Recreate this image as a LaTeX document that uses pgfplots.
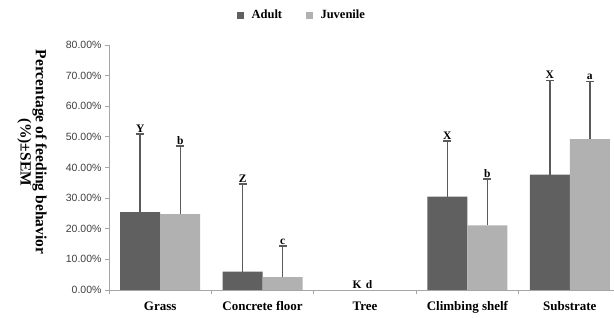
\documentclass[border=0pt]{standalone}
\usepackage{fontspec}
\setmainfont{Liberation Serif}
\newfontfamily\arialfont{Liberation Sans}
\usepackage{pgfplots}
\pgfplotsset{compat=1.18}
\usepackage{pgfplotstable}
\definecolor{adult}{HTML}{606060}
\definecolor{juv}{HTML}{B1B1B1}
\definecolor{axisgray}{HTML}{A6A6A6}
\definecolor{errgray}{HTML}{5A5A5A}
\definecolor{ticktext}{HTML}{404040}

% x: 0 Grass, 1 Concrete floor, 2 Tree (0, no bar), 3 Climbing shelf, 4 Substrate
\pgfplotstableread{
x val top lab
0 25.4 51.0 Y
1 6.0 34.6 Z
3 30.5 48.7 X
4 37.7 68.4 X
}\adult
\pgfplotstableread{
x val top lab
0 24.8 47.0 b
1 4.2 14.4 c
3 21.1 36.3 b
4 49.3 68.1 a
}\juvenile

\begin{document}
\begin{tikzpicture}
\begin{axis}[
  at={(109bp,28bp)}, anchor=south west,
  scale only axis, width=512bp, height=245bp,
  xmin=-0.5, xmax=4.5, ymin=0, ymax=80,
  ybar, bar width=40bp,
  axis x line*=bottom, axis y line*=left,
  axis line style={axisgray, line width=0.8bp},
  tick align=outside,
  ytick={0,10,...,80},
  yticklabel={\pgfmathprintnumber[fixed,fixed zerofill,precision=2]{\tick}\%},
  /pgf/number format/assume math mode=true,
  yticklabel style={font=\arialfont\fontsize{10.5bp}{12bp}\selectfont, text=ticktext},
  y tick style={axisgray, line width=0.8bp},
  major tick length=4bp,
  xtick={0,1,2,3,4},
  xticklabels={Grass, Concrete floor, Tree, Climbing shelf, Substrate},
  major x tick style={draw=none},
  minor xtick={-0.5,0.5,1.5,2.5,3.5,4.5},
  minor x tick style={axisgray, line width=0.8bp},
  minor tick length=4bp,
  xticklabel style={font=\bfseries\fontsize{13bp}{15bp}\selectfont, text=black, yshift=-4bp},
  ylabel={Percentage of feeding behavior\\(\%)±SEM},
  ylabel style={font=\bfseries\fontsize{15.5bp}{14bp}\selectfont, align=center,
    rotate=180, at={(axis description cs:-0.1504,0.563)}, anchor=center},
  legend columns=2,
  legend style={at={(rel axis cs:0.25,1.122)}, anchor=west, draw=none, fill=none,
    inner xsep=0pt, font=\bfseries\fontsize{12.5bp}{14bp}\selectfont,
    /tikz/every even column/.append style={column sep=22bp}},
  error bars/y dir=plus, error bars/y explicit,
  error bars/error bar style={errgray, line width=1.4bp},
  error bars/error mark options={rotate=90, mark size=4bp, errgray, line width=1.4bp},
]
\addlegendimage{legend image code/.code={\fill[adult] (0bp,-3bp) rectangle (6bp,3bp); \path (12bp,0bp);}}
\addlegendentry{Adult}
\addlegendimage{legend image code/.code={\fill[juv] (0bp,-3bp) rectangle (6bp,3bp); \path (12bp,0bp);}}
\addlegendentry{Juvenile}

\addplot[forget plot, fill=adult, draw=none, bar shift=-20bp]
  table[x=x, y=val, y error expr=\thisrow{top}-\thisrow{val}] {\adult};
\addplot[forget plot, fill=juv, draw=none, bar shift=20bp]
  table[x=x, y=val, y error expr=\thisrow{top}-\thisrow{val}] {\juvenile};

\addplot[forget plot, draw=none, fill=none, bar shift=-20bp,
  nodes near coords, point meta=explicit symbolic,
  nodes near coords style={font=\bfseries\fontsize{11.5bp}{13bp}\selectfont, text=black, anchor=south, inner sep=1bp, yshift=0.5bp}]
  table[x=x, y=top, meta=lab] {\adult};
\addplot[forget plot, draw=none, fill=none, bar shift=20bp,
  nodes near coords, point meta=explicit symbolic,
  nodes near coords style={font=\bfseries\fontsize{11.5bp}{13bp}\selectfont, text=black, anchor=south, inner sep=1bp, yshift=0.5bp}]
  table[x=x, y=top, meta=lab] {\juvenile};

\node[font=\bfseries\fontsize{11.5bp}{13bp}\selectfont, anchor=south, inner sep=0pt, xshift=-8bp, yshift=1.5bp] at (axis cs:2,0) {K};
\node[font=\bfseries\fontsize{11.5bp}{13bp}\selectfont, anchor=south, inner sep=0pt, xshift=4bp, yshift=1.5bp] at (axis cs:2,0) {d};
\end{axis}
\pgfresetboundingbox
\useasboundingbox (0,0) rectangle (614bp,318bp);
\end{tikzpicture}
\end{document}
